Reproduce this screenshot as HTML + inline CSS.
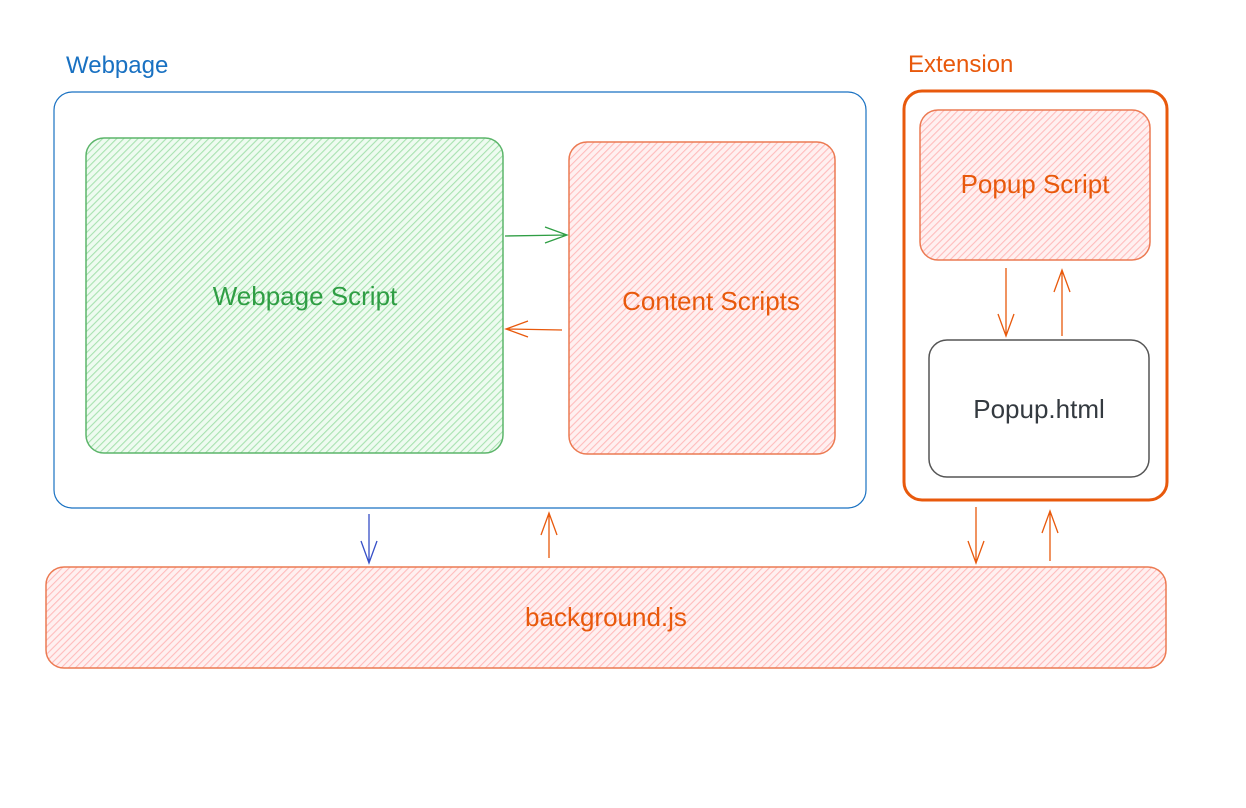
<!DOCTYPE html>
<html><head><meta charset="utf-8"><style>
html,body{margin:0;padding:0;background:#fff;}
svg{display:block}
text{font-family:"Comic Sans MS","Liberation Sans",sans-serif;}
</style></head><body>
<svg width="1246" height="808" viewBox="0 0 1246 808" xmlns="http://www.w3.org/2000/svg">
<defs>
<pattern id="hg" width="5" height="5" patternUnits="userSpaceOnUse" patternTransform="rotate(45)">
<rect width="5" height="5" fill="#eefbf0"/><line x1="0" y1="0" x2="0" y2="5" stroke="#a8e2b0" stroke-width="2.2"/></pattern>
<pattern id="hr" width="5" height="5" patternUnits="userSpaceOnUse" patternTransform="rotate(45)">
<rect width="5" height="5" fill="#fff0f0"/><line x1="0" y1="0" x2="0" y2="5" stroke="#ffbcbc" stroke-width="2.2"/></pattern>
</defs>
<text x="66" y="73" font-size="24" fill="#1971c2">Webpage</text>
<text x="908" y="72" font-size="24" fill="#e8590c">Extension</text>
<rect x="54" y="92" width="812" height="416" rx="18" fill="none" stroke="#1971c2" stroke-width="1.2"/>
<rect x="86" y="138" width="417" height="315" rx="18" fill="url(#hg)" stroke="#5cb56a" stroke-width="1.5"/>
<text x="305" y="305" font-size="26" fill="#2f9e44" text-anchor="middle">Webpage Script</text>
<rect x="569" y="142" width="266" height="312" rx="18" fill="url(#hr)" stroke="#ec7a52" stroke-width="1.5"/>
<text x="711" y="310" font-size="26" fill="#e8590c" text-anchor="middle">Content Scripts</text>
<rect x="904" y="91" width="263" height="409" rx="18" fill="none" stroke="#e8590c" stroke-width="3"/>
<rect x="920" y="110" width="230" height="150" rx="18" fill="url(#hr)" stroke="#ec7a52" stroke-width="1.5"/>
<text x="1035" y="193" font-size="26" fill="#e8590c" text-anchor="middle">Popup Script</text>
<rect x="929" y="340" width="220" height="137" rx="18" fill="#fff" stroke="#555" stroke-width="1.5"/>
<text x="1039" y="418" font-size="26" fill="#343a40" text-anchor="middle">Popup.html</text>
<rect x="46" y="567" width="1120" height="101" rx="18" fill="url(#hr)" stroke="#ec7a52" stroke-width="1.5"/>
<text x="606" y="626" font-size="26" fill="#e8590c" text-anchor="middle">background.js</text>
<g fill="none" stroke-width="1.3">
<path d="M505 236 L567 235 M545 227 L567 235 L545 243" stroke="#2f9e44"/>
<path d="M562 330 L506 329 M528 321 L506 329 L528 337" stroke="#e8590c"/>
<path d="M1006 268 L1006 336 M998 314 L1006 336 L1014 314" stroke="#e8590c"/>
<path d="M1062 336 L1062 270 M1054 292 L1062 270 L1070 292" stroke="#e8590c"/>
<path d="M369 514 L369 563 M361 541 L369 563 L377 541" stroke="#364fc7"/>
<path d="M549 558 L549 513 M541 535 L549 513 L557 535" stroke="#e8590c"/>
<path d="M976 507 L976 563 M968 541 L976 563 L984 541" stroke="#e8590c"/>
<path d="M1050 561 L1050 511 M1042 533 L1050 511 L1058 533" stroke="#e8590c"/>
</g>
</svg>
</body></html>
